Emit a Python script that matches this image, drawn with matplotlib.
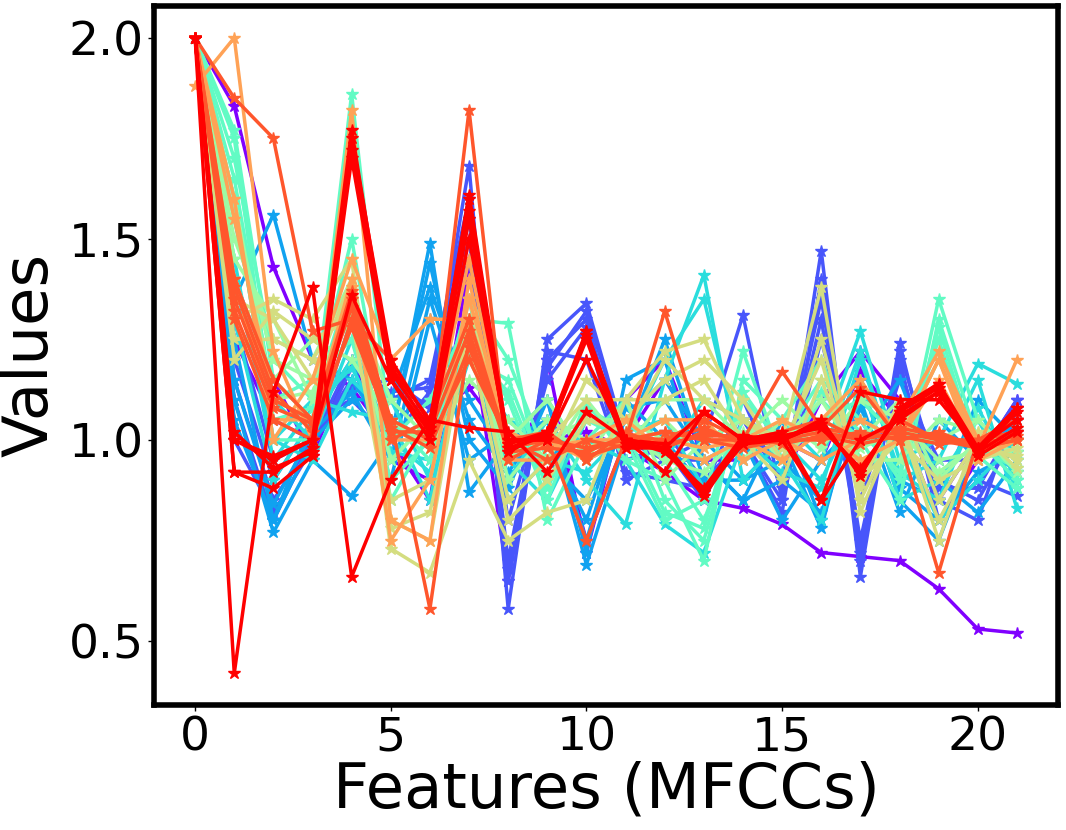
import numpy as np
import matplotlib
matplotlib.use("Agg")
import matplotlib.pyplot as plt

features = list(range(22))

purple_lines = [
    [2.0, 1.83, 1.43, 1.20, 1.13, 1.00, 1.05, 1.13, 1.00, 1.00, 1.02, 0.98, 0.92, 0.85, 0.83, 0.79, 0.72, 0.71, 0.70, 0.63, 0.53, 0.52],
    [2.0, 1.40, 1.15, 0.96, 1.20, 1.00, 0.85, 1.44, 0.95, 1.10, 0.75, 1.00, 1.15, 1.00, 1.05, 0.90, 1.10, 1.22, 1.10, 0.85, 1.00, 1.05],
    [2.0, 1.25, 1.05, 1.00, 1.30, 0.95, 0.90, 1.30, 0.65, 1.20, 0.72, 1.10, 1.20, 0.95, 0.95, 1.00, 0.95, 1.17, 1.05, 0.80, 0.95, 1.10],
]
blue_lines = [
    [2.0, 1.15, 0.85, 1.00, 1.15, 1.05, 1.10, 1.68, 0.58, 1.25, 1.34, 1.00, 0.95, 1.00, 1.31, 0.85, 1.47, 0.66, 1.24, 0.85, 0.80, 1.08],
    [2.0, 1.10, 0.80, 1.00, 1.20, 1.10, 1.15, 1.60, 0.65, 1.18, 1.32, 1.00, 1.02, 0.90, 1.00, 0.82, 1.40, 0.70, 1.22, 0.90, 0.85, 1.02],
    [2.0, 1.20, 0.90, 1.05, 1.10, 1.00, 1.12, 1.50, 0.70, 1.20, 1.30, 0.95, 0.98, 0.85, 1.05, 0.90, 1.35, 0.75, 1.20, 0.80, 0.90, 0.86],
    [2.0, 1.30, 0.95, 1.00, 1.13, 1.15, 1.08, 1.45, 0.80, 1.15, 1.28, 0.90, 0.95, 0.95, 1.00, 0.85, 1.25, 0.85, 1.15, 0.95, 0.95, 1.10],
    [2.0, 1.00, 0.82, 0.98, 1.18, 1.12, 1.13, 1.55, 0.68, 1.22, 1.20, 0.92, 0.90, 0.88, 1.10, 0.88, 1.30, 0.72, 1.18, 0.88, 0.88, 1.05],
]
lightblue_lines = [
    [2.0, 1.35, 1.56, 1.20, 1.15, 1.00, 1.49, 0.87, 1.00, 1.05, 0.69, 1.00, 1.25, 0.95, 0.85, 1.05, 0.80, 1.10, 0.82, 1.05, 0.95, 1.05],
    [2.0, 1.10, 0.77, 0.95, 0.86, 1.00, 1.44, 1.00, 0.88, 1.10, 0.72, 1.15, 1.20, 0.90, 0.90, 1.00, 0.78, 1.15, 0.85, 0.75, 1.00, 0.92],
    [2.0, 1.25, 0.80, 1.00, 1.10, 1.10, 1.38, 1.10, 0.95, 1.00, 0.80, 1.10, 1.00, 0.88, 1.00, 0.80, 0.95, 1.05, 0.90, 0.85, 1.10, 1.00],
    [2.0, 1.05, 0.80, 1.05, 1.20, 0.90, 1.30, 0.95, 1.02, 0.95, 0.85, 1.05, 1.15, 1.00, 0.90, 0.95, 0.85, 1.00, 1.15, 0.90, 0.82, 0.95],
    [2.0, 1.15, 0.84, 1.02, 1.12, 0.95, 1.35, 1.05, 0.92, 1.05, 0.75, 1.08, 1.10, 0.95, 0.85, 0.90, 0.82, 1.08, 0.88, 0.80, 0.92, 0.97],
]
cyan_lines = [
    [2.0, 1.40, 1.00, 1.10, 1.07, 1.05, 1.00, 1.35, 0.90, 1.05, 0.90, 0.79, 1.15, 1.41, 0.90, 1.00, 1.00, 1.27, 0.95, 1.00, 1.19, 1.14],
    [2.0, 1.55, 1.10, 1.00, 1.25, 0.97, 0.95, 1.25, 1.00, 1.10, 0.95, 1.00, 1.20, 1.35, 0.95, 1.05, 0.95, 1.22, 0.90, 0.95, 1.15, 0.83],
    [2.0, 1.30, 0.90, 1.05, 1.20, 1.10, 0.90, 1.20, 1.05, 1.00, 1.00, 0.95, 0.79, 0.72, 1.00, 0.95, 0.80, 1.15, 0.85, 0.90, 1.05, 0.88],
    [2.0, 1.60, 1.00, 0.95, 1.15, 1.05, 0.85, 1.30, 0.95, 0.85, 1.05, 1.05, 0.95, 1.10, 1.05, 1.00, 0.90, 1.10, 1.00, 0.80, 0.90, 1.00],
    [2.0, 1.45, 0.95, 1.08, 1.18, 1.00, 0.92, 1.28, 0.85, 0.95, 0.92, 1.02, 1.05, 0.88, 1.00, 0.92, 0.88, 1.20, 0.92, 0.85, 1.08, 0.90],
]
aqua_lines = [
    [2.0, 1.77, 1.15, 1.05, 1.86, 1.00, 1.10, 1.30, 1.29, 0.80, 1.00, 1.10, 0.85, 0.75, 1.10, 1.00, 1.15, 1.05, 0.90, 1.35, 1.05, 0.95],
    [2.0, 1.70, 1.20, 1.10, 1.50, 0.95, 1.05, 1.20, 1.15, 0.90, 1.05, 1.00, 0.80, 0.85, 1.22, 0.95, 1.10, 1.00, 0.85, 1.30, 1.00, 0.90],
    [2.0, 1.60, 1.00, 1.00, 1.30, 1.05, 0.95, 1.25, 1.10, 0.85, 1.10, 0.95, 0.90, 0.70, 1.15, 1.05, 1.20, 0.95, 0.95, 1.25, 0.95, 1.00],
    [2.0, 1.65, 1.10, 1.15, 1.25, 0.90, 1.00, 1.35, 1.20, 0.95, 1.00, 1.05, 0.95, 0.80, 1.05, 1.00, 1.05, 1.10, 1.00, 1.20, 0.98, 0.93],
    [2.0, 1.75, 1.05, 1.08, 1.40, 0.85, 1.02, 1.22, 1.12, 0.88, 1.08, 1.02, 0.82, 0.78, 1.12, 0.98, 1.12, 1.02, 0.92, 1.28, 0.96, 0.88],
]
green_lines = [
    [2.0, 1.50, 1.25, 1.20, 1.40, 1.00, 1.05, 1.25, 0.95, 1.05, 1.00, 1.00, 1.05, 0.95, 1.00, 1.10, 1.00, 1.05, 1.00, 1.00, 1.05, 0.95],
    [2.0, 1.45, 1.30, 1.10, 1.35, 1.10, 1.00, 1.20, 1.00, 1.10, 0.95, 1.10, 0.90, 1.00, 1.05, 0.95, 1.05, 1.00, 1.10, 0.90, 1.00, 0.97],
    [2.0, 1.55, 1.20, 1.15, 1.30, 0.95, 1.05, 1.30, 0.98, 1.00, 1.05, 1.05, 1.00, 1.05, 0.95, 1.05, 0.98, 1.10, 1.05, 0.95, 0.97, 1.03],
    [2.0, 1.40, 1.15, 1.25, 1.20, 1.05, 0.98, 1.15, 1.05, 0.95, 1.10, 0.98, 1.10, 1.10, 1.00, 1.00, 1.10, 0.95, 0.95, 1.05, 1.02, 0.92],
    [2.0, 1.60, 1.10, 1.12, 1.32, 1.02, 1.02, 1.28, 0.90, 1.02, 0.98, 1.02, 0.95, 0.92, 1.02, 1.02, 1.02, 0.98, 1.02, 0.92, 0.99, 1.00],
]
khaki_lines = [
    [2.0, 1.30, 1.35, 1.30, 1.45, 0.73, 0.67, 0.95, 0.75, 0.82, 0.85, 1.10, 1.22, 1.25, 1.05, 1.00, 1.38, 0.82, 1.05, 0.75, 1.02, 0.93],
    [2.0, 1.35, 1.30, 1.15, 1.40, 0.80, 0.75, 1.30, 0.85, 0.95, 1.15, 1.05, 1.15, 1.20, 1.10, 0.95, 1.25, 0.88, 1.10, 0.85, 1.00, 0.95],
    [2.0, 1.25, 1.25, 1.20, 1.35, 0.85, 0.90, 1.35, 0.95, 1.00, 1.10, 1.10, 1.10, 1.15, 1.00, 0.90, 1.15, 0.90, 1.00, 0.90, 0.95, 0.98],
    [2.0, 1.20, 1.32, 1.25, 1.30, 0.78, 0.82, 1.25, 0.80, 0.90, 1.05, 1.02, 1.20, 1.10, 1.05, 0.98, 1.20, 0.85, 1.05, 0.80, 0.98, 0.96],
]
orange_lines = [
    [1.88, 2.00, 1.22, 1.00, 1.82, 0.80, 0.75, 1.40, 0.95, 0.95, 1.00, 1.00, 1.05, 1.05, 0.95, 1.00, 1.05, 1.15, 1.00, 1.20, 0.98, 1.20],
    [2.0, 1.60, 1.00, 1.15, 1.45, 1.20, 1.30, 1.30, 1.00, 1.00, 0.95, 1.00, 1.02, 1.00, 1.00, 1.00, 0.95, 1.00, 1.05, 1.22, 1.00, 1.05],
    [2.0, 1.55, 1.10, 1.05, 1.40, 0.75, 0.90, 1.35, 1.02, 0.98, 1.00, 1.05, 0.97, 0.95, 1.00, 1.05, 1.00, 1.05, 1.00, 1.20, 0.95, 1.00],
    [2.0, 1.40, 1.05, 1.05, 1.38, 1.00, 1.00, 1.45, 0.98, 1.00, 0.98, 1.00, 1.00, 0.98, 1.00, 0.95, 1.02, 0.95, 1.00, 1.15, 0.97, 1.00],
]
orangered_lines = [
    [2.0, 1.85, 1.75, 1.27, 1.30, 1.20, 1.00, 1.82, 0.95, 1.00, 0.75, 1.00, 1.32, 1.00, 1.00, 1.17, 1.03, 1.13, 1.00, 0.67, 1.00, 1.05],
    [2.0, 1.40, 1.15, 1.05, 1.37, 1.05, 0.58, 1.25, 1.00, 0.95, 1.00, 0.98, 1.00, 1.05, 1.00, 1.02, 1.05, 1.00, 1.05, 1.00, 1.00, 1.02],
    [2.0, 1.35, 1.10, 1.05, 1.33, 1.00, 1.05, 1.30, 0.98, 1.00, 0.98, 1.00, 1.02, 1.00, 0.98, 1.00, 1.02, 1.00, 1.02, 1.00, 0.98, 1.00],
    [2.0, 1.30, 1.05, 1.00, 1.30, 1.05, 1.00, 1.20, 1.00, 1.02, 0.95, 1.02, 0.98, 1.02, 1.00, 1.00, 1.00, 1.02, 1.00, 1.02, 0.98, 1.00],
    [2.0, 1.38, 1.12, 1.02, 1.35, 1.02, 1.02, 1.27, 0.97, 0.98, 0.97, 1.01, 1.00, 1.03, 0.99, 1.01, 1.03, 1.01, 1.03, 1.01, 0.99, 1.01],
    [2.0, 1.32, 1.08, 1.04, 1.28, 1.03, 0.98, 1.23, 0.99, 1.01, 0.96, 0.99, 0.99, 1.01, 1.01, 0.99, 1.01, 0.99, 1.01, 0.99, 1.00, 1.02],
]
red_lines = [
    [2.0, 1.00, 0.96, 1.00, 1.77, 1.17, 1.03, 1.61, 0.99, 1.02, 1.27, 0.99, 0.98, 0.87, 1.00, 1.00, 1.04, 0.92, 1.07, 1.13, 0.97, 1.03],
    [2.0, 1.02, 0.93, 0.97, 1.72, 1.18, 1.05, 1.57, 1.00, 1.00, 1.27, 1.00, 0.97, 0.88, 1.01, 1.00, 1.05, 0.91, 1.08, 1.14, 0.98, 1.05],
    [2.0, 0.92, 0.92, 0.98, 1.70, 1.15, 1.02, 1.55, 0.98, 1.01, 1.25, 0.98, 0.98, 0.86, 1.00, 1.01, 1.03, 0.93, 1.06, 1.12, 0.96, 1.02],
    [2.0, 0.92, 0.88, 0.96, 1.75, 1.20, 1.04, 1.60, 0.97, 1.02, 1.26, 1.00, 0.99, 0.87, 0.99, 1.00, 1.04, 0.92, 1.07, 1.14, 0.97, 1.07],
    [2.0, 0.42, 1.12, 1.38, 0.66, 0.90, 1.05, 1.03, 1.02, 0.92, 1.07, 1.00, 0.98, 1.07, 1.00, 1.00, 0.85, 1.12, 1.10, 1.10, 0.98, 1.08],
    [2.0, 1.00, 0.95, 1.00, 1.36, 1.15, 1.00, 1.50, 1.00, 1.00, 1.20, 1.00, 0.92, 1.07, 1.00, 1.02, 0.85, 1.00, 1.05, 1.12, 0.98, 1.08],
]

groups = [purple_lines, blue_lines, lightblue_lines, cyan_lines, aqua_lines,
          green_lines, khaki_lines, orange_lines, orangered_lines, red_lines]
colors = plt.cm.rainbow(np.linspace(0, 1, len(groups)))

fig = plt.figure(figsize=(10.66, 8.30), dpi=100)
ax = fig.add_axes([0.1445, 0.1506, 0.848, 0.8422])

for grp, col in zip(groups, colors):
    for vals in grp:
        ax.plot(features, vals, marker='*', color=col, linewidth=2.5, markersize=9)

ax.set_xticks([0, 5, 10, 15, 20])
ax.set_yticks([0.5, 1.0, 1.5, 2.0])
ax.tick_params(labelsize=34, length=4, width=1)
ax.set_xlabel('Features (MFCCs)', fontsize=45, labelpad=0)
ax.set_ylabel('Values', fontsize=45, labelpad=6)
for sp in ax.spines.values():
    sp.set_linewidth(4)
    sp.set_color('black')

fig.savefig('out.png', dpi=100)
